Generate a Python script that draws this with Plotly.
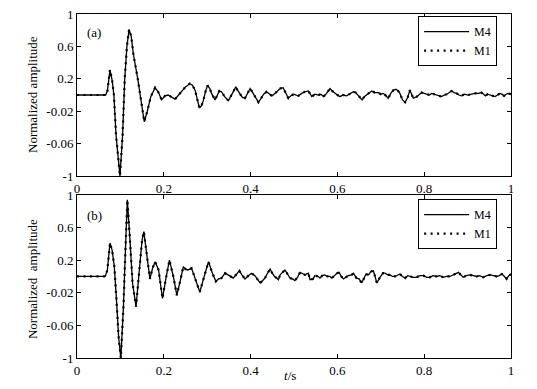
import plotly.graph_objects as go

# ---------------- data ----------------
t_a = [0, 0.066, 0.070, 0.076, 0.081, 0.085, 0.090, 0.099, 0.105, 0.110, 0.115, 0.120, 0.125, 0.130,
       0.140, 0.148, 0.155, 0.162, 0.170, 0.180, 0.187, 0.195, 0.203, 0.210, 0.217, 0.226, 0.234,
       0.241, 0.250, 0.260, 0.266, 0.272, 0.277, 0.282, 0.287, 0.291, 0.296, 0.301, 0.306, 0.310,
       0.318, 0.324, 0.328, 0.333, 0.340, 0.349, 0.357, 0.366, 0.370, 0.375, 0.381, 0.387, 0.393,
       0.399, 0.406, 0.412, 0.418, 0.423, 0.430, 0.437, 0.443, 0.449, 0.456, 0.464, 0.468, 0.475,
       0.481, 0.487, 0.493, 0.499, 0.505, 0.510, 0.518, 0.525, 0.533, 0.537, 0.541, 0.548, 0.556,
       0.562, 0.568, 0.575, 0.583, 0.588, 0.594, 0.600, 0.606, 0.613, 0.621, 0.629, 0.637, 0.642,
       0.647, 0.652, 0.657, 0.662, 0.667, 0.673, 0.679, 0.686, 0.694, 0.700, 0.706, 0.712, 0.717,
       0.723, 0.729, 0.735, 0.740, 0.744, 0.750, 0.756, 0.762, 0.767, 0.771, 0.775, 0.783, 0.789,
       0.794, 0.800, 0.806, 0.812, 0.817, 0.823, 0.829, 0.835, 0.840, 0.846, 0.852, 0.858, 0.863,
       0.869, 0.875, 0.880, 0.886, 0.893, 0.901, 0.909, 0.917, 0.925, 0.932, 0.937, 0.941, 0.946,
       0.951, 0.957, 0.963, 0.969, 0.974, 0.979, 0.984, 0.989, 0.993, 1.0]
m4_a = [0, 0, 0.05, 0.31, 0.18, 0.0, -0.5, -1.0, -0.5, 0.2, 0.6, 0.81, 0.72, 0.5,
        0.2, -0.1, -0.33, -0.2, -0.02, 0.09, 0.04, -0.06, -0.01, 0.0, -0.02, -0.05, 0.0,
        0.04, 0.10, 0.14, 0.12, 0.06, -0.06, -0.16, -0.13, -0.07, 0.04, 0.12, 0.08, 0.02,
        -0.06, 0.0, 0.05, 0.04, -0.02, -0.07, 0.02, 0.10, 0.06, 0.02, -0.03, -0.04, 0.03,
        0.08, 0.02, -0.04, -0.09, -0.05, 0.01, 0.04, 0.01, -0.01, 0.02, 0.06, 0.08, 0.09,
        0.02, -0.04, -0.01, 0.01, 0.0, -0.01, 0.02, 0.04, 0.05, 0.02, -0.02, 0.01, 0.0,
        0.01, -0.02, 0.02, 0.08, 0.05, 0.02, 0.0, -0.02, 0.0, -0.01, 0.02, 0.04, 0.03,
        0.0, -0.03, -0.06, -0.02, 0.0, 0.03, 0.05, 0.03, 0.03, 0.01, 0.02, -0.01, -0.04,
        0.02, 0.06, 0.07, 0.05, 0.02, -0.06, -0.09, -0.03, 0.06, 0.01, -0.04, -0.02, 0.01,
        0.03, 0.02, 0.01, 0.0, 0.02, 0.01, 0.0, -0.01, -0.02, 0.0, 0.01, 0.03, 0.05,
        0.03, 0.02, 0.0, -0.01, 0.01, 0.0, 0.01, 0.02, 0.02, 0.03, 0.01, -0.01, 0.01,
        0.0, -0.01, -0.02, 0.0, 0.02, 0.01, -0.01, 0.01, 0.02, 0.01]
m1_a = list(m4_a)  # M1 overlaps M4 in panel (a)

t_b = [0, 0.065, 0.070, 0.076, 0.081, 0.086, 0.091, 0.096, 0.101, 0.107, 0.111, 0.116, 0.122, 0.128,
       0.136, 0.144, 0.150, 0.154, 0.161, 0.168, 0.174, 0.180, 0.188, 0.197, 0.205, 0.213, 0.222,
       0.230, 0.238, 0.245, 0.250, 0.255, 0.264, 0.274, 0.283, 0.293, 0.303, 0.312, 0.320, 0.326,
       0.333, 0.341, 0.346, 0.351, 0.360, 0.367, 0.374, 0.380, 0.387, 0.395, 0.402, 0.410, 0.416,
       0.422, 0.428, 0.433, 0.439, 0.445, 0.450, 0.455, 0.460, 0.464, 0.468, 0.474, 0.479, 0.485,
       0.491, 0.497, 0.502, 0.508, 0.514, 0.518, 0.525, 0.533, 0.537, 0.544, 0.548, 0.556, 0.560,
       0.565, 0.571, 0.577, 0.583, 0.587, 0.594, 0.599, 0.604, 0.609, 0.614, 0.620, 0.625, 0.633,
       0.637, 0.644, 0.650, 0.656, 0.661, 0.666, 0.672, 0.677, 0.683, 0.687, 0.691, 0.698, 0.705,
       0.710, 0.716, 0.721, 0.727, 0.733, 0.739, 0.744, 0.750, 0.756, 0.762, 0.767, 0.775, 0.782,
       0.790, 0.798, 0.806, 0.813, 0.820, 0.828, 0.836, 0.844, 0.851, 0.859, 0.866, 0.872, 0.879,
       0.884, 0.890, 0.897, 0.905, 0.913, 0.921, 0.928, 0.936, 0.944, 0.952, 0.960, 0.967, 0.973,
       0.979, 0.985, 0.990, 0.995, 1.0]
m4_b = [0, 0, 0.08, 0.41, 0.32, 0.12, -0.29, -0.75, -1.0, -0.37, 0.24, 0.94, 0.45, -0.08,
        -0.37, 0.12, 0.45, 0.55, 0.24, -0.03, 0.10, 0.18, 0.08, -0.27, -0.02, 0.20, 0.0,
        -0.23, -0.05, 0.12, 0.09, 0.08, 0.10, -0.04, -0.19, 0.0, 0.18, 0.04, -0.06, -0.03,
        -0.02, 0.04, 0.02, 0.01, -0.02, 0.03, 0.07, 0.02, -0.03, 0.01, 0.04, 0.01, -0.03,
        -0.08, -0.05, -0.02, 0.04, 0.09, 0.04, 0.0, -0.02, -0.04, 0.02, 0.05, 0.08, 0.03,
        -0.02, -0.03, -0.05, -0.01, 0.05, 0.04, 0.02, 0.04, -0.04, -0.03, 0.01, 0.0, -0.02,
        0.01, 0.02, 0.0, 0.0, -0.02, 0.02, 0.04, 0.05, 0.0, -0.03, -0.01, 0.01, 0.02,
        0.04, -0.02, -0.03, -0.08, -0.02, 0.03, 0.02, 0.06, 0.07, -0.02, -0.08, -0.01, 0.04,
        0.04, 0.02, 0.02, 0.0, 0.0, 0.02, 0.03, 0.0, -0.02, 0.01, 0.0, -0.01, -0.01,
        0.01, 0.01, -0.01, -0.01, 0.01, 0.0, 0.01, -0.01, 0.0, 0.0, 0.02, 0.03, 0.05,
        0.02, -0.01, 0.01, 0.02, 0.01, 0.0, 0.01, -0.01, 0.01, 0.02, 0.01, 0.0, 0.01,
        0.03, 0.0, -0.03, 0.01, 0.03]
m1_b = list(m4_b)  # M1 overlaps M4 in panel (b)

x_tickvals = [0, 0.2, 0.4, 0.6, 0.8, 1]
x_ticktext = ["0", "0.2", "0.4", "0.6", "0.8", "1"]
y_tickvals = [1, 0.6, 0.2, -0.2, -0.6, -1]
y_ticktext = ["1", "0.6", "0.2", "-0.02", "-0.06", "-1"]

FONT = "Liberation Serif"
FS = 13

fig = go.Figure()
for t, m4, m1, xa, ya, lg in [(t_a, m4_a, m1_a, "x", "y", "legend"),
                               (t_b, m4_b, m1_b, "x2", "y2", "legend2")]:
    fig.add_trace(go.Scatter(x=t, y=m4, name="M4", mode="lines", xaxis=xa, yaxis=ya,
                             legend=lg, line=dict(color="black", width=1.3)))
    fig.add_trace(go.Scatter(x=t, y=m1, name="M1", mode="lines", xaxis=xa, yaxis=ya,
                             legend=lg, line=dict(color="black", width=2.2, dash="2px,4.5px")))

axis_common = dict(showline=True, linecolor="black", linewidth=1, mirror="allticks",
                   ticks="inside", ticklen=4, tickcolor="black", showgrid=False, zeroline=False,
                   automargin=False,
                   tickfont=dict(family=FONT, size=FS, color="black"))

legend_common = dict(xanchor="right", yanchor="top", bgcolor="white", bordercolor="black",
                     borderwidth=1, font=dict(family=FONT, size=12), tracegroupgap=0,
                     itemwidth=45)

fig.update_layout(
    width=537, height=389,
    margin=dict(l=77, r=26, t=14, b=31, autoexpand=False),
    paper_bgcolor="white", plot_bgcolor="white",
    font=dict(family=FONT, size=FS, color="black"),
    xaxis=dict(domain=[0, 1], range=[0, 1], anchor="y", tickvals=x_tickvals,
               ticktext=x_ticktext, **axis_common),
    yaxis=dict(domain=[0.529, 1], range=[-1, 1], anchor="x", tickvals=y_tickvals,
               ticktext=y_ticktext, **axis_common),
    xaxis2=dict(domain=[0, 1], range=[0, 1], anchor="y2", tickvals=x_tickvals,
                ticktext=x_ticktext, **axis_common),
    yaxis2=dict(domain=[0, 0.474], range=[-1, 1], anchor="x2", tickvals=y_tickvals,
                ticktext=y_ticktext, **axis_common),
    legend=dict(x=0.968, y=0.994, **legend_common),
    legend2=dict(x=0.968, y=0.462, **legend_common),
    annotations=[
        dict(text="(a)", x=0.04, y=0.945, xref="paper", yref="paper", showarrow=False,
             xanchor="center", yanchor="middle", font=dict(family=FONT, size=FS)),
        dict(text="(b)", x=0.04, y=0.415, xref="paper", yref="paper", showarrow=False,
             xanchor="center", yanchor="middle", font=dict(family=FONT, size=FS)),
        dict(text="Normalized amplitude", textangle=-90, x=-0.101, y=0.765, xref="paper",
             yref="paper", showarrow=False, xanchor="center", yanchor="middle",
             font=dict(family=FONT, size=FS)),
        dict(text="Normalized  amplitude", textangle=-90, x=-0.101, y=0.23, xref="paper",
             yref="paper", showarrow=False, xanchor="center", yanchor="middle",
             font=dict(family=FONT, size=FS)),
        dict(text="<i>t</i>/s", x=0.491, y=-0.05, xref="paper", yref="paper", showarrow=False,
             xanchor="center", yanchor="middle", font=dict(family=FONT, size=FS)),
    ],
)

fig.write_html("out.html", config={"displayModeBar": False},
               post_script="document.body.style.margin='0';document.body.style.overflow='hidden';")
